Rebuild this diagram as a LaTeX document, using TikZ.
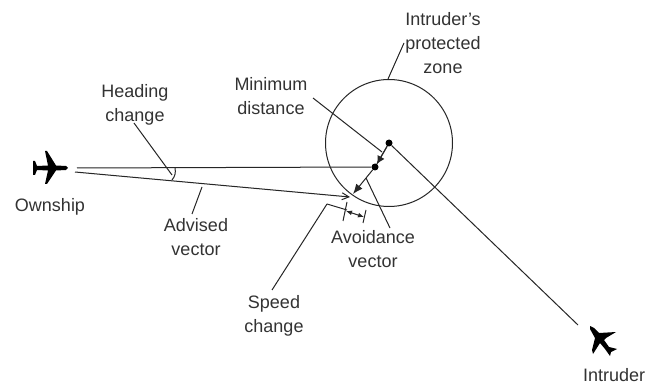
\documentclass[tikz,border=0pt]{standalone}
\usepackage{fontspec}
\setmainfont{Liberation Sans}
\usetikzlibrary{arrows.meta}
\tikzset{
  lbl/.style={font=\fontsize{18}{24}\selectfont,align=center,inner sep=0pt,text=black!80},
  ln/.style={line width=1pt,black!85},
  dot/.style={circle,fill=black,inner sep=0pt,minimum size=7pt},
  plane/.style={fill=black,draw=none}
}
\begin{document}
\begin{tikzpicture}[x=1pt,y=-1pt]
\useasboundingbox (0,0) rectangle (646,385);
\fill[white] (0,0) rectangle (646,385);
\node[lbl] (zone) at (443,43) {Intruder's\\protected\\zone};
\node[lbl] (min) at (271,96) {Minimum\\distance};
\node[lbl] (head) at (135,105) {Heading\\change};
\node[lbl] (own) at (50,207) {Ownship};
\node[lbl] (adv) at (196,237) {Advised\\vector};
\node[lbl] (avoid) at (373,249) {Avoidance\\vector};
\node[lbl] (speed) at (274,316) {Speed\\change};
\node[lbl,anchor=west] (intr) at (583,375) {Intruder};
\coordinate (cc) at (389,143);
\node[draw=black!85,line width=1pt,circle,minimum size=127pt,inner sep=0pt] (zonec) at (cc) {};
\node[dot] (d1) at (cc) {};
\node[dot] (d2) at (375,167) {};
\coordinate (ownE) at (77,168);
\coordinate (ownF) at (75,172);
\coordinate (tip) at (350,197);
\coordinate (tip2) at (353,194);
\coordinate (intE) at (578,325);
\draw[ln] (ownE) -- (d2);
\draw[ln,-{Straight Barb[length=7pt,width=7pt]}] (ownF) -- (tip);
\draw[ln,-{Latex[length=10pt,width=8pt]}] (d2) -- (tip2);
\draw[ln] (d1) -- (intE);
\draw[ln] (d1) -- (d2);
\draw[ln,-{Latex[length=8pt,width=8pt]}] (d1) -- (377,164);
\coordinate (mA) at (313,98);
\coordinate (mB) at (382,152);
\draw[ln] (mA) -- (mB);
\draw[ln] (404,43) -- (388,79);
\draw[ln] (134,123) -- (172,175);
\draw[ln] (175,168) to[bend left=25] (172,180);
\draw[ln] (202,187) -- (192,214);
\draw[ln] (366,178) -- (390,228);
\draw[ln] (327,204) -- (272,290);
\draw[ln] (327,204) -- (347,210);
\draw[ln] (347,202) -- (343,221);
\draw[ln] (366,210) -- (363,223);
\draw[line width=1pt,black!85,{Latex[length=6pt,width=5pt]}-{Latex[length=6pt,width=5pt]}] (346,211) -- (364,217);
% ownship
\fill[plane] (33,161) -- (35,161) -- (37,166) -- (48,165.5) -- (45,151) -- (47,151) -- (56,165.5) -- (66,166) -- (68,168) -- (66,170) -- (56,170.5) -- (47,184) -- (45,184) -- (48,170.5) -- (37,170) -- (35,175) -- (33,175) -- cycle;
% intruder
\fill[plane] (590,326) -- (594,328) -- (599,333) -- (616,332) -- (606,338) -- (604,340) -- (609,347) -- (617,349) -- (611,352) -- (610,356) -- (605,349) -- (600,343) -- (593,354) -- (592,350) -- (595,338) -- (590,329) -- cycle;
\end{tikzpicture}
\end{document}
